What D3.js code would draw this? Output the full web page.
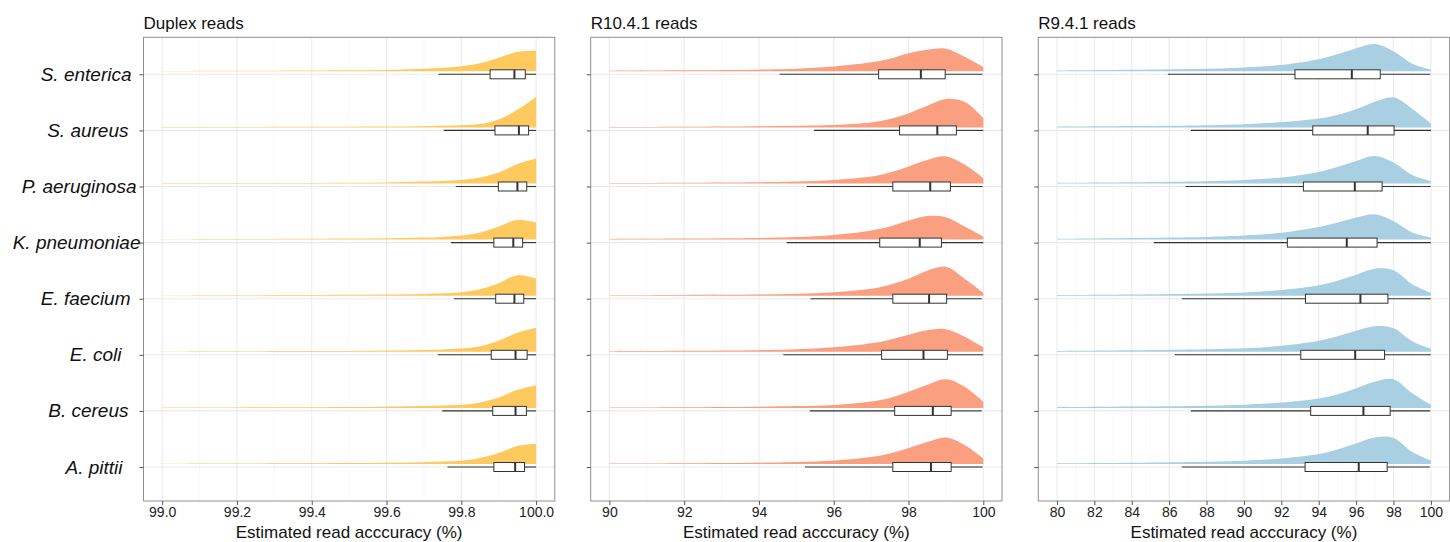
<!DOCTYPE html>
<html><head><meta charset="utf-8">
<script src="https://cdn.jsdelivr.net/npm/d3@7"></script>
<style>
html,body{margin:0;padding:0;background:#fff;}
svg{display:block;font-family:"Liberation Sans",Arial,sans-serif;}
</style></head>
<body><svg id="chart" width="1450" height="542"></svg>
<script>
// ---------------- data ----------------
const species = ["S. enterica","S. aureus","P. aeruginosa","K. pneumoniae","E. faecium","E. coli","B. cereus","A. pittii"];
const panelTitles = ["Duplex reads","R10.4.1 reads","R9.4.1 reads"];
const xTitle = "Estimated read acccuracy (%)";
const fillColors = ["#FEC95F","#FB9F81","#A9CFE3"];

const duplexTicks = [99.0,99.2,99.4,99.6,99.8,100.0];
const r10Ticks = [90,92,94,96,98,100];
const r9Ticks = [80,82,84,86,88,90,92,94,96,98,100];

// boxplot stats: [lower whisker, Q1, median, Q3, upper whisker]
const duplexBox = [
  [99.739,99.877,99.942,99.971,100.0],
  [99.753,99.890,99.954,99.980,100.0],
  [99.785,99.899,99.950,99.975,100.0],
  [99.772,99.887,99.939,99.964,100.0],
  [99.780,99.892,99.942,99.967,100.0],
  [99.737,99.880,99.945,99.976,100.0],
  [99.749,99.884,99.945,99.974,100.0],
  [99.763,99.887,99.944,99.969,100.0]
];
const r10Box = [
  [94.55,97.20,98.33,98.98,99.98],
  [95.47,97.76,98.77,99.28,100.0],
  [95.28,97.58,98.58,99.12,99.98],
  [94.74,97.23,98.30,98.88,100.0],
  [95.38,97.58,98.55,99.02,99.96],
  [94.65,97.28,98.40,99.04,100.0],
  [95.36,97.63,98.65,99.14,99.96],
  [95.23,97.58,98.60,99.14,99.98]
];
const r9Box = [
  [85.93,92.73,95.77,97.29,99.96],
  [87.16,93.68,96.62,98.03,100.0],
  [86.87,93.18,95.93,97.39,99.99],
  [85.18,92.32,95.50,97.12,100.0],
  [86.68,93.29,96.23,97.70,100.0],
  [86.30,93.04,95.95,97.52,100.0],
  [87.16,93.57,96.39,97.82,99.96],
  [86.68,93.27,96.14,97.66,99.94]
];

// density curves (relative density, sampled at grid accuracies)
const duplexGrid = [99.0,99.2,99.4,99.5,99.6,99.7,99.75,99.8,99.85,99.9,99.95,100.0];
const duplexDensity = [
  [0.3,0.5,0.8,1.0,1.4,2.5,3.5,5.0,8.0,13.5,19.5,20.6],
  [0.3,0.4,0.6,0.7,0.9,1.2,1.6,2.2,3.3,8.0,17.5,30.6],
  [0.3,0.4,0.6,0.8,1.1,2.0,2.6,3.5,6.0,11.0,19.5,25.0],
  [0.3,0.5,0.8,1.0,1.3,2.0,2.7,4.0,7.0,13.0,19.8,17.0],
  [0.3,0.5,0.7,0.9,1.2,1.8,2.4,3.5,6.5,12.5,20.5,17.0],
  [0.3,0.5,0.7,0.9,1.2,1.8,2.4,3.2,5.5,11.0,19.0,24.0],
  [0.3,0.5,0.7,0.9,1.2,1.8,2.4,3.2,5.5,10.5,18.0,22.7],
  [0.3,0.5,0.7,0.9,1.2,1.8,2.4,3.2,6.0,11.0,18.0,20.3]
];
const r10Grid = [90,92,94,95,96,97,97.5,98,98.5,99,99.5,100];
const r10Density = [
  [0.6,1.0,1.6,2.5,4.8,9.0,12.5,18.0,21.5,22.6,14.5,4.3],
  [0.4,0.7,1.2,1.6,2.5,5.0,8.5,14.0,21.5,28.3,25.5,9.3],
  [0.5,0.8,1.3,2.0,3.5,7.0,11.0,17.0,23.5,27.0,19.0,5.3],
  [0.6,1.0,1.6,2.5,4.5,9.0,13.0,19.0,23.5,22.3,13.0,3.0],
  [0.5,0.8,1.2,2.0,3.5,7.0,11.0,17.0,25.0,29.0,17.0,3.0],
  [0.6,1.0,1.6,2.5,4.5,8.5,12.0,17.0,21.5,22.5,15.0,4.5],
  [0.4,0.7,1.2,1.8,3.0,6.5,10.0,16.0,23.0,28.5,21.0,6.0],
  [0.4,0.8,1.3,2.0,3.5,7.0,10.5,16.0,22.0,26.5,19.0,5.5]
];
const r9Grid = [80,84,88,90,92,94,95,96,97,98,99,100];
const r9Density = [
  [0.8,1.5,2.5,3.8,6.3,12.0,17.0,23.0,27.2,20.0,7.5,1.7],
  [0.7,1.3,2.2,3.2,5.3,9.0,12.5,18.0,25.5,30.0,18.5,3.7],
  [0.7,1.3,2.3,3.5,6.0,11.5,16.5,22.5,27.5,21.0,8.5,2.5],
  [0.8,1.6,2.7,4.0,6.8,12.5,17.0,22.0,25.3,18.5,7.0,2.0],
  [0.7,1.3,2.3,3.3,5.7,10.5,15.0,21.0,27.0,25.5,11.5,3.0],
  [0.8,1.5,2.5,3.5,6.0,11.0,15.5,21.0,25.5,23.5,10.5,3.0],
  [0.7,1.3,2.2,3.2,5.3,9.5,13.5,19.5,26.0,28.5,14.5,3.0],
  [0.7,1.3,2.3,3.3,5.5,10.0,14.5,20.5,26.5,26.0,12.0,3.5]
];

// ---------------- layout ----------------
const svg = d3.select("#chart");
const panelLeft = [143.5, 590.7, 1038.3];
const panelW = 411.3;
const plotTop = 37.3, plotBottom = 501;
const ink = "#333333";
// per-label horizontal nudge of the y-axis species names (as typeset in the original)
const labelNudge = [0, -3, 5, 9, -1, -10, -3, -9];

const y = d3.scalePoint().domain(species).range([74.3, 467]);
const step = y.step();
const hScale = d3.scaleLinear().domain([0, 56]).range([0, step]);

const panelDefs = [
  {ticks: duplexTicks, box: duplexBox, grid: duplexGrid, dens: duplexDensity, fmt: d3.format(".1f")},
  {ticks: r10Ticks, box: r10Box, grid: r10Grid, dens: r10Density, fmt: d3.format("d")},
  {ticks: r9Ticks, box: r9Box, grid: r9Grid, dens: r9Density, fmt: d3.format("d")}
];

panelDefs.forEach((p, pi) => {
  const x0 = panelLeft[pi], x1 = x0 + panelW;
  const [a, b] = d3.extent(p.ticks);
  const pad = (b - a) * 0.05;
  const x = d3.scaleLinear().domain([a - pad, b + pad]).range([x0, x1]);
  const g = svg.append("g");

  // minor grid
  const minor = p.ticks.slice(0, -1).map((t, i) => (t + p.ticks[i + 1]) / 2);
  g.selectAll(".minor").data(minor).join("line")
    .attr("x1", d => x(d)).attr("x2", d => x(d))
    .attr("y1", plotTop).attr("y2", plotBottom)
    .attr("stroke", "#F3F3F3").attr("stroke-width", 0.6);
  // major grid
  g.selectAll(".major").data(p.ticks).join("line")
    .attr("x1", d => x(d)).attr("x2", d => x(d))
    .attr("y1", plotTop).attr("y2", plotBottom)
    .attr("stroke", "#EBEBEB").attr("stroke-width", 1.1);
  g.selectAll(".hgrid").data(species).join("line")
    .attr("x1", x0).attr("x2", x1)
    .attr("y1", d => y(d)).attr("y2", d => y(d))
    .attr("stroke", "#EBEBEB").attr("stroke-width", 1.1);

  // densities (half-eye)
  const area = d3.area()
    .x(d => x(d[0]))
    .y0(d => d[2])
    .y1(d => d[2] - hScale(d[1]))
    .curve(d3.curveCatmullRom.alpha(0.5));
  species.forEach((s, si) => {
    const base = y(s) - 3;
    const pts = p.grid.map((v, k) => [v, p.dens[si][k], base]);
    g.append("path").attr("d", area(pts))
      .attr("fill", fillColors[pi]).attr("stroke", "none");
  });

  // boxplots
  species.forEach((s, si) => {
    const [lo, q1, med, q3, hi] = p.box[si];
    const cy = y(s);
    g.append("line").attr("x1", x(lo)).attr("x2", x(q1)).attr("y1", cy).attr("y2", cy)
      .attr("stroke", ink).attr("stroke-width", 1.1);
    g.append("line").attr("x1", x(q3)).attr("x2", x(hi)).attr("y1", cy).attr("y2", cy)
      .attr("stroke", ink).attr("stroke-width", 1.1);
    g.append("rect").attr("x", x(q1)).attr("y", cy - 4.5)
      .attr("width", x(q3) - x(q1)).attr("height", 9)
      .attr("fill", "#fff").attr("stroke", ink).attr("stroke-width", 1);
    g.append("line").attr("x1", x(med)).attr("x2", x(med)).attr("y1", cy - 4.5).attr("y2", cy + 4.5)
      .attr("stroke", ink).attr("stroke-width", 2);
  });

  // border
  g.append("rect").attr("x", x0).attr("y", plotTop).attr("width", panelW).attr("height", plotBottom - plotTop)
    .attr("fill", "none").attr("stroke", "#8f8f8f").attr("stroke-width", 1);

  // x axis
  const xAxis = d3.axisBottom(x).tickValues(p.ticks).tickFormat(p.fmt).tickSize(4).tickPadding(2);
  const ax = g.append("g").attr("transform", `translate(0,${plotBottom})`).call(xAxis);
  ax.select(".domain").remove();
  ax.selectAll(".tick line").attr("stroke", "#555");
  ax.selectAll(".tick text").attr("fill", "#222").style("font-size", "14px")
    .style("font-family", '"Liberation Sans",Arial,sans-serif');

  // y ticks
  const yAxis = d3.axisLeft(y).tickSize(4).tickFormat(pi === 0 ? (d => d) : "");
  const ay = g.append("g").attr("transform", `translate(${x0},0)`).call(yAxis);
  ay.select(".domain").remove();
  ay.selectAll(".tick line").attr("stroke", "#555");
  ay.selectAll(".tick text").attr("fill", "#111")
    .attr("x", (d, i) => -12 + labelNudge[i])
    .style("font-size", "19px").style("font-style", "italic")
    .style("font-family", '"Liberation Sans",Arial,sans-serif');

  // titles
  svg.append("text").attr("x", x0).attr("y", 29)
    .style("font-size", "17px").attr("fill", "#111").text(panelTitles[pi]);
  svg.append("text").attr("x", (x0 + x1) / 2).attr("y", 538)
    .attr("text-anchor", "middle").style("font-size", "17px").attr("fill", "#111").text(xTitle);
});
</script></body></html>
